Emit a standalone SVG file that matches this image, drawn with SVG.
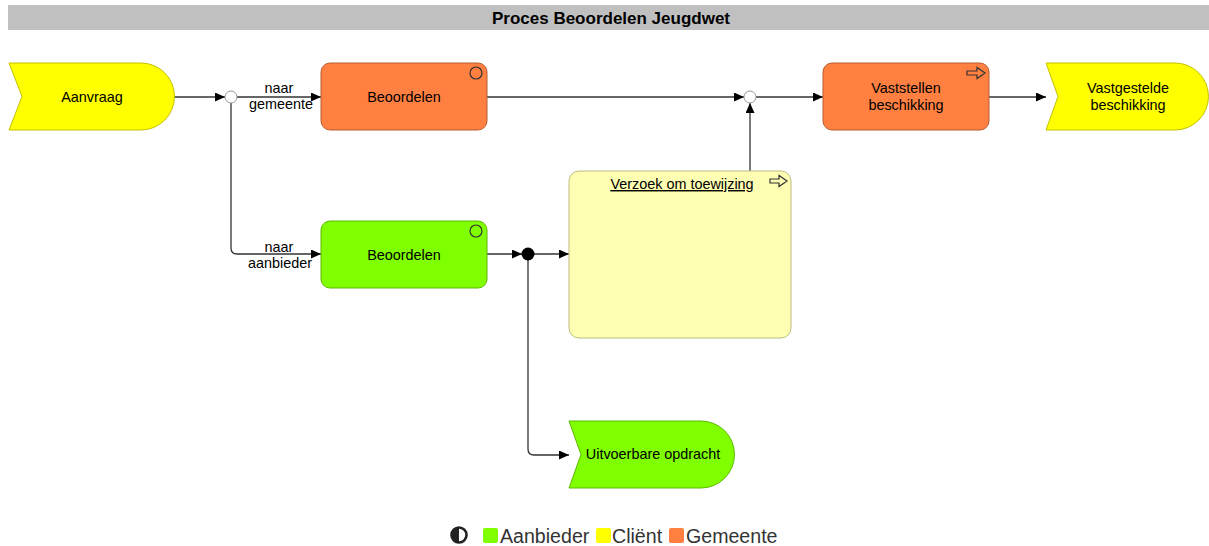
<svg xmlns="http://www.w3.org/2000/svg" width="1209" height="546" viewBox="0 0 1209 546">
<style>
text{font-family:"Liberation Sans",Arial,sans-serif;fill:#000}
.t{font-size:14.4px;text-anchor:middle}
.lbl{font-size:14.4px;text-anchor:middle}
.leg{font-size:19.6px;fill:#333}
.con{fill:none;stroke:#333;stroke-width:1.3}
.cl{fill:#FFFF00;stroke:#C2C200;stroke-width:1}
.gm{fill:#FF8040;stroke:#B95C30;stroke-width:1}
.ab{fill:#80FF00;stroke:#5CB800;stroke-width:1}
.ic{fill:none;stroke:#333;stroke-width:1.2}
</style>
<defs>
<marker id="arr" markerUnits="userSpaceOnUse" markerWidth="11" markerHeight="9" refX="10" refY="4.5" orient="auto">
<path d="M0,0 L10,4.5 L0,9 Z" fill="#000"/>
</marker>
</defs>
<g id="title">
<rect x="8" y="5" width="1201" height="25" fill="#C0C0C0"/>
<text x="611" y="23.5" style="font-size:17px;font-weight:bold;text-anchor:middle">Proces Beoordelen Jeugdwet</text>
</g>
<g id="connectors">
<path class="con" d="M174,97 H225" marker-end="url(#arr)"/>
<path class="con" d="M237,97 H321" marker-end="url(#arr)"/>
<path class="con" d="M231,103 V248 Q231,254 237,254 H321" marker-end="url(#arr)"/>
<path class="con" d="M487,97 H744" marker-end="url(#arr)"/>
<path class="con" d="M756,97 H823" marker-end="url(#arr)"/>
<path class="con" d="M750,171 V103" marker-end="url(#arr)"/>
<path class="con" d="M989,97 H1046" marker-end="url(#arr)"/>
<path class="con" d="M487,254 H522" marker-end="url(#arr)"/>
<path class="con" d="M534,254 H569" marker-end="url(#arr)"/>
<path class="con" d="M528,260 V449 Q528,455 534,455 H569" marker-end="url(#arr)"/>
<text class="lbl" x="279" y="93">naar</text>
<text class="lbl" x="281" y="109">gemeente</text>
<text class="lbl" x="279" y="252">naar</text>
<text class="lbl" x="280" y="268">aanbieder</text>
</g>
<g id="junction1"><circle cx="231" cy="97" r="6" fill="#fff" stroke="#999" stroke-width="1"/></g>
<g id="junction2"><circle cx="750" cy="97" r="6" fill="#fff" stroke="#999" stroke-width="1"/></g>
<g id="junction3"><circle cx="528" cy="254" r="6.5" fill="#000"/></g>
<g id="aanvraag">
<path class="cl" d="M9,63 H141 A33.5,33.5 0 0 1 141,130 H9 L22,96.5 Z"/>
<text class="t" x="92" y="102">Aanvraag</text>
</g>
<g id="beoordelen-gemeente">
<rect class="gm" x="321" y="63" width="166" height="67" rx="9"/>
<circle class="ic" cx="476" cy="73" r="6"/>
<text class="t" x="404" y="102">Beoordelen</text>
</g>
<g id="vaststellen">
<rect class="gm" x="823" y="63" width="166" height="67" rx="9"/>
<path class="ic" d="M967,71 H977 V67.5 L985,73 L977,78.5 V75 H967 Z"/>
<text class="t" x="906" y="93">Vaststellen</text>
<text class="t" x="906" y="110">beschikking</text>
</g>
<g id="vastgestelde">
<path class="cl" d="M1046,63 H1175 A33.5,33.5 0 0 1 1175,130 H1046 L1058,96.5 Z"/>
<text class="t" x="1128" y="93">Vastgestelde</text>
<text class="t" x="1128" y="110">beschikking</text>
</g>
<g id="beoordelen-aanbieder">
<rect class="ab" x="321" y="221" width="166" height="67" rx="9"/>
<circle class="ic" cx="476" cy="231" r="6"/>
<text class="t" x="404" y="260">Beoordelen</text>
</g>
<g id="verzoek">
<rect x="569" y="171" width="222" height="167" rx="10" fill="#FFFFB3" stroke="#BDBD80" stroke-width="1"/>
<path class="ic" d="M770,179 H779 V175.5 L787,181 L779,186.5 V183 H770 Z"/>
<text class="t" x="682" y="189" text-decoration="underline">Verzoek om toewijzing</text>
</g>
<g id="uitvoerbare">
<path class="ab" d="M569,421 H701 A33.5,33.5 0 0 1 701,488 H569 L581,454.5 Z"/>
<text class="t" x="653" y="459">Uitvoerbare opdracht</text>
</g>
<g id="legend">
<circle cx="459" cy="535" r="7.5" fill="#fff" stroke="#222" stroke-width="2.6"/>
<path d="M459,527.5 A7.5,7.5 0 0 0 459,542.5 Z" fill="#222"/>
<rect x="483" y="528" width="15" height="15" rx="2" fill="#80FF00"/>
<text class="leg" x="500" y="543">Aanbieder</text>
<rect x="596" y="528" width="15" height="15" rx="2" fill="#FFFF00"/>
<text class="leg" x="612" y="543">Cliënt</text>
<rect x="669" y="528" width="15" height="15" rx="2" fill="#FF8040"/>
<text class="leg" x="686" y="543">Gemeente</text>
</g>
</svg>
